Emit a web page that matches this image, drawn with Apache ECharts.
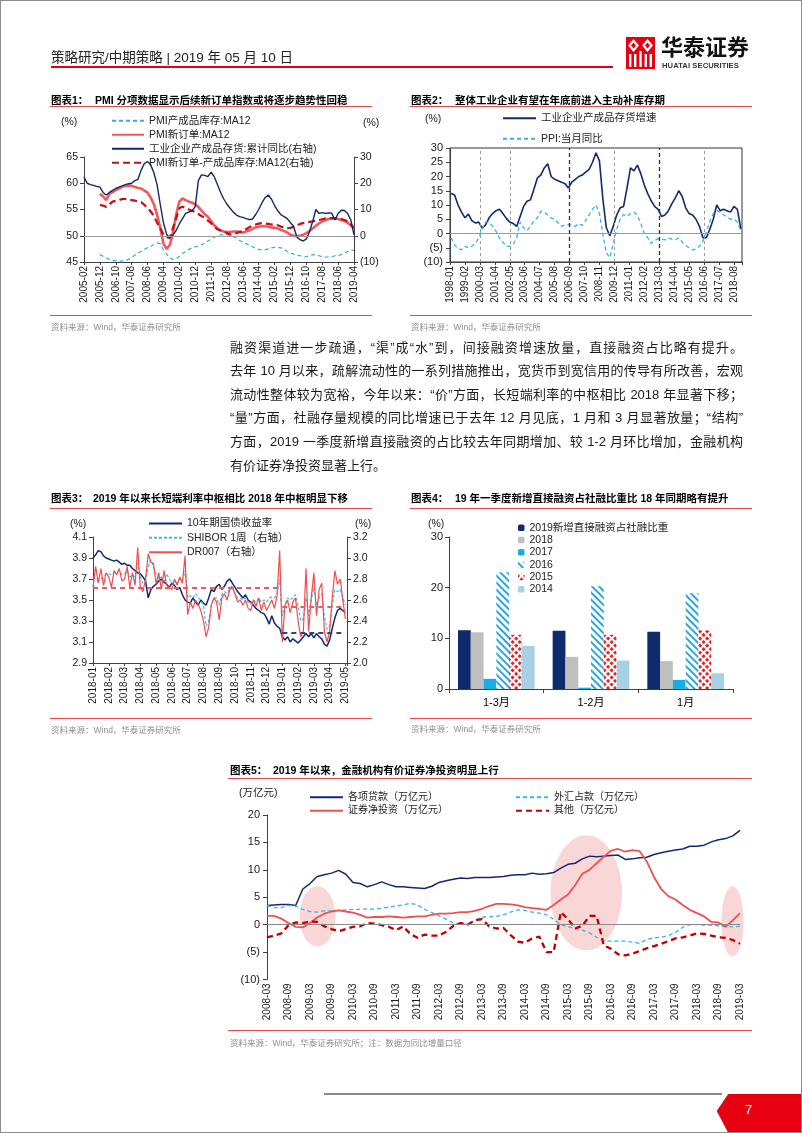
<!DOCTYPE html>
<html>
<head>
<meta charset="utf-8">
<title>华泰证券 策略研究</title>
<script src="https://cdn.jsdelivr.net/npm/echarts@6/dist/echarts.min.js"></script>
<style>
html,body{margin:0;padding:0;background:#fff;}
#page{position:relative;width:802px;height:1133px;overflow:hidden;background:#fff;font-family:"Liberation Sans","Noto Sans CJK SC",sans-serif;color:#1a1a1a;}
#chart{position:absolute;left:0;top:0;width:802px;height:1133px;}
.t{position:absolute;white-space:nowrap;line-height:1;}
.ttl{font-size:10.5px;font-weight:bold;color:#000;}
.src{font-size:8.5px;color:#8f8f8f;}
.unit{font-size:10.5px;color:#1a1a1a;}
.rule{position:absolute;height:1.3px;background:#e8494b;}
.par{position:absolute;left:230px;width:513px;font-size:13px;line-height:1;text-align:justify;text-align-last:justify;color:#1a1a1a;}
#frame{position:absolute;left:0;top:0;width:802px;height:1133px;box-sizing:border-box;border:1px solid #8c8c8c;pointer-events:none;}
</style>
</head>
<body>
<div id="page">
<div id="chart"></div>

<!-- header -->
<div class="t" style="left:51px;top:50.5px;font-size:13.5px;color:#222;">策略研究/中期策略 | 2019 年 05 月 10 日</div>
<div class="rule" style="left:51px;top:66px;width:562px;height:2px;background:#e60012;"></div>
<svg style="position:absolute;left:626px;top:37px" width="29" height="32" viewBox="0 0 29 32">
  <rect width="29" height="32" fill="#e60012"/>
  <path d="M7.5 2 L13 8.5 L7.5 15 L2 8.5 Z" fill="#fff"/>
  <path d="M21.5 2 L27 8.5 L21.5 15 L16 8.5 Z" fill="#fff"/>
  <path d="M7.5 5.5 L10 8.5 L7.5 11.5 L5 8.5 Z" fill="#e60012"/>
  <path d="M21.5 5.5 L24 8.5 L21.5 11.5 L19 8.5 Z" fill="#e60012"/>
  <rect x="3" y="17" width="2.4" height="13" fill="#fff"/>
  <rect x="8" y="17" width="2.4" height="13" fill="#fff"/>
  <rect x="13.3" y="14" width="2.4" height="16" fill="#fff"/>
  <rect x="18.6" y="17" width="2.4" height="13" fill="#fff"/>
  <rect x="23.6" y="17" width="2.4" height="13" fill="#fff"/>
</svg>
<div class="t" style="left:661px;top:37px;font-size:22px;font-weight:bold;color:#111;">华泰证券</div>
<div class="t" style="left:662px;top:62px;font-size:7.6px;font-weight:bold;color:#333;letter-spacing:0.1px;">HUATAI SECURITIES</div>

<!-- chart titles -->
<div class="t ttl" style="left:51px;top:94.5px;">图表1：</div>
<div class="t ttl" style="left:95px;top:94.5px;">PMI 分项数据显示后续新订单指数或将逐步趋势性回稳</div>
<div class="rule" style="left:50px;top:106px;width:322px;"></div>
<div class="t ttl" style="left:411px;top:94.5px;">图表2：</div>
<div class="t ttl" style="left:455px;top:94.5px;">整体工业企业有望在年底前进入主动补库存期</div>
<div class="rule" style="left:410px;top:106px;width:342px;"></div>

<div class="t ttl" style="left:51px;top:492.5px;">图表3：</div>
<div class="t ttl" style="left:93px;top:492.5px;">2019 年以来长短端利率中枢相比 2018 年中枢明显下移</div>
<div class="rule" style="left:50px;top:508px;width:322px;"></div>
<div class="t ttl" style="left:411px;top:492.5px;">图表4：</div>
<div class="t ttl" style="left:455px;top:492.5px;">19 年一季度新增直接融资占社融比重比 18 年同期略有提升</div>
<div class="rule" style="left:410px;top:508px;width:342px;"></div>

<div class="t ttl" style="left:230px;top:765px;">图表5：</div>
<div class="t ttl" style="left:273px;top:765px;">2019 年以来，金融机构有价证券净投资明显上行</div>
<div class="rule" style="left:228px;top:778px;width:524px;"></div>

<!-- bottom rules and sources -->
<div class="rule" style="left:50px;top:314.5px;width:322px;"></div>
<div class="t src" style="left:51px;top:323px;">资料来源：Wind，华泰证券研究所</div>
<div class="rule" style="left:410px;top:314.5px;width:342px;"></div>
<div class="t src" style="left:411px;top:323px;">资料来源：Wind，华泰证券研究所</div>
<div class="rule" style="left:50px;top:717.5px;width:322px;"></div>
<div class="t src" style="left:51px;top:726px;">资料来源：Wind，华泰证券研究所</div>
<div class="rule" style="left:410px;top:717.5px;width:342px;"></div>
<div class="t src" style="left:411px;top:725px;">资料来源：Wind，华泰证券研究所</div>
<div class="rule" style="left:228px;top:1029.5px;width:524px;"></div>
<div class="t src" style="left:230px;top:1039px;">资料来源：Wind，华泰证券研究所；注：数据为同比增量口径</div>

<!-- unit labels -->
<div class="t unit" style="left:61px;top:115.5px;">(%)</div>
<div class="t unit" style="left:363px;top:116.5px;">(%)</div>
<div class="t unit" style="left:425px;top:112.5px;">(%)</div>
<div class="t unit" style="left:70px;top:517.5px;">(%)</div>
<div class="t unit" style="left:355px;top:517.5px;">(%)</div>
<div class="t unit" style="left:428px;top:517.5px;">(%)</div>
<div class="t unit" style="left:239px;top:786.5px;">(万亿元)</div>

<!-- paragraph -->
<div class="par" style="top:340.5px;">融资渠道进一步疏通，“渠”成“水”到，间接融资增速放量，直接融资占比略有提升。</div>
<div class="par" style="top:364.1px;">去年 10 月以来，疏解流动性的一系列措施推出，宽货币到宽信用的传导有所改善，宏观</div>
<div class="par" style="top:387.7px;">流动性整体较为宽裕，今年以来：“价”方面，长短端利率的中枢相比 2018 年显著下移；</div>
<div class="par" style="top:411.3px;">“量”方面，社融存量规模的同比增速已于去年 12 月见底，1 月和 3 月显著放量；“结构”</div>
<div class="par" style="top:434.9px;">方面，2019 一季度新增直接融资的占比较去年同期增加、较 1-2 月环比增加，金融机构</div>
<div class="par" style="top:458.5px;text-align-last:left;">有价证券净投资显著上行。</div>

<!-- footer -->
<div style="position:absolute;left:324px;top:1093px;width:398px;height:2px;background:#8c8c8c;"></div>
<svg style="position:absolute;left:712px;top:1093px" width="90" height="40" viewBox="0 0 90 40">
  <polygon points="16,1 90,1 90,40 16,40 4.5,18" fill="#9a9a9a"/>
  <polygon points="15,1 90,1 90,40 15,40 3.5,18" fill="#e60012" transform="translate(1.5,0)"/>
</svg>
<div class="t" style="left:745px;top:1103px;font-size:13px;color:#fff;">7</div>
<div id="frame"></div>
</div>

<script>
// ---------------- data ----------------
// Chart 1 (monthly index from 2005-02; sampled every 2 months)
const c1Ticks = ['2005-02','2005-12','2006-10','2007-08','2008-06','2009-04','2010-02','2010-12','2011-10','2012-08','2013-06','2014-04','2015-02','2015-12','2016-10','2017-08','2018-06','2019-04'];
const c1Step = 2;
const c1InvYoYStart = 0;     // 工业企业产成品存货:累计同比 from 2005-02
const c1PmiStart = 10;       // PMI MA12 series from 2005-12
const c1InvYoY = [22.4,20,19.5,19.2,18.8,18.5,16.5,15.5,16.5,17.3,18,18.5,19,19.5,19.8,20,21,21.5,25,27.5,
  28.3,27,24,19.5,12,5,0.5,-0.8,0.3,2,4.5,6.5,8.5,9,9.5,11,21,23.2,23,22.5,
  24.2,22.5,19.5,16.5,14,12,10.5,9,7.9,7.3,7,6.5,6.2,6.3,8,10,12.5,14.5,15.5,14,
  11.5,9.5,8,7.3,6.5,5,3.5,-0.5,-1.5,-2,-1.2,1.5,5.5,10,8.5,8.8,8.5,8.7,8.6,6,
  8.5,9.7,9.6,8.5,6,0.3];
const c1NewOrder = [58.0,57.5,56.8,58,58.3,58.7,59,59.3,59.5,59.6,59.5,59.3,59.1,59,58.6,58.2,57.3,56,54,51.5,
  48.5,47.5,48.2,50.5,54,56.5,57.1,56.8,56.5,56.3,56,55.5,54.8,54.1,53.6,52.8,52,51.4,51,50.8,
  50.7,50.7,50.8,50.8,50.7,50.6,50.8,51,51.3,51.6,51.7,51.8,51.8,51.7,51.6,51.5,51.4,51.1,50.9,50.6,
  50.2,50,49.9,50,50.2,50.5,50.9,51.4,51.9,52.4,52.7,53,53.2,53.3,53.3,53.2,53,52.8,52.5,52,51.4];
const c1Spread = [11.7,11.5,11,12,13,13.3,13.6,14,14,13.8,13.6,13.4,13,12.8,11.8,10.4,9.3,7.5,5,3,
  0.5,-0.5,-0.8,3,6.5,10.5,11.1,10.5,10,9.5,9,8.3,7.5,6.8,5.8,4.8,3.5,2.5,2,1.6,
  1,0.5,0.6,1,1.5,1.6,2.5,3.2,3.8,4.3,4.6,4.8,4.7,4.5,4.3,4.2,4,3.5,3.2,2.9,
  3,3.4,4,4.5,4.8,5,5.3,5.5,5.8,6,6.3,6.6,6.7,6.7,6.6,6.5,6.4,6,5.5,4.3,3];
const c1Inventory = [46.4,46.1,45.8,45.5,45.3,45.2,45.1,45.2,45.3,45.5,45.9,46.3,46.7,47,47.4,47.7,48,48.3,48.6,48.5,
  47.3,46.5,45.8,45.5,45.6,46.1,46.6,47,47.4,47.7,47.9,48,48.3,48.6,49,49.3,49.7,50,50.2,50.2,
  50.2,50.1,49.8,49.5,49.1,48.8,48.5,48.2,47.9,47.6,47.4,47.3,47.3,47.5,47.7,47.8,47.8,47.7,47.4,47,
  46.7,46.5,46.3,46.2,46,46,46.2,46.4,46.3,46.2,46,45.9,46,46,46.2,46.2,46.4,46.7,47,47.3,47.2];

// Chart 2 (monthly index from 1998-01; sampled every 3 months starting 1998-02)
const c2Ticks = ['1998-01','1999-02','2000-03','2001-04','2002-05','2003-06','2004-07','2005-08','2006-09','2007-10','2008-11','2009-12','2011-01','2012-02','2013-03','2014-04','2015-05','2016-06','2017-07','2018-08'];
const c2Start = 1, c2Step = 3;
const c2InvGrowth = [14,13.5,10,7.5,5.5,6.8,4.5,3.7,4,1.9,3,5.5,7,8,8.5,7,5.3,4,3.5,2.5,
  6,9.5,11.3,11.8,15.5,19.5,20.5,23,24.5,20,19,18.5,18,17.5,16,18,19,20,20.5,21.5,
  22.5,25,28.3,25.5,12,2,-0.8,2.5,6.5,9,9.5,16,23,22,24,21,17,14,11.5,9.5,
  8.5,6,6.5,8,10.5,12.5,15,13,9,7,6.5,5,2.5,-1.5,-1.5,1.5,5,10,8,8.5,
  8,7.5,9.5,8.5,1.5];
const c2PPI = [-1.5,-4,-5.3,-5.7,-4.5,-5,-4.5,-3.5,-1.5,1.5,4,4,2.5,0.8,-1.6,-3,-4.5,-4.5,-3.8,-1.6,
  4,2,1,2.5,4.5,5.5,7.8,7.5,6.5,5.4,5,3.7,2.5,3,3,3,2.5,3.5,2.8,4.5,
  6.5,8.5,10,7,-0.5,-6.8,-8.5,-3.5,1.5,5,6.6,6,7,7.5,6.5,3.5,0,-1.5,-3.5,-2.5,
  -1.8,-2,-2.2,-1.6,-2,-2.2,-1.6,-3,-4.2,-5,-5.7,-5.4,-4.5,-2.7,0.5,4.3,7,8,7.5,6.5,
  5.8,5,5,4,0.8];
const c2Marks = ['2000-03','2002-05','2006-09','2009-12','2013-03','2016-06'];
const c2MarkStrong = [false,false,true,false,true,false];

// Chart 3 (month index from 2018-01; 6 samples per month)
const c3Ticks = ['2018-01','2018-02','2018-03','2018-04','2018-05','2018-06','2018-07','2018-08','2018-09','2018-10','2018-11','2018-12','2019-01','2019-02','2019-03','2019-04','2019-05'];
const c3PerMonth = 6;
const c3Bond10Y = [3.90,3.93,3.97,3.96,3.92,3.90, 3.89,3.88,3.87,3.88,3.86,3.84, 3.85,3.83,3.83,3.80,3.78,3.76,
  3.75,3.72,3.68,3.52,3.60,3.63, 3.65,3.68,3.70,3.67,3.65,3.62, 3.66,3.64,3.60,3.62,3.55,3.50,
  3.48,3.47,3.52,3.48,3.45,3.50, 3.47,3.45,3.52,3.60,3.58,3.63, 3.65,3.60,3.63,3.68,3.70,3.66,
  3.62,3.58,3.55,3.52,3.55,3.50, 3.48,3.45,3.42,3.40,3.38,3.37, 3.33,3.27,3.35,3.28,3.25,3.23,
  3.15,3.12,3.15,3.10,3.13,3.11, 3.09,3.12,3.15,3.18,3.15,3.18, 3.14,3.18,3.15,3.13,3.08,3.06,
  3.12,3.23,3.33,3.40,3.42,3.40, 3.38];
const c3Shibor = [2.82,2.80,2.78,2.80,2.82,2.85, 2.85,2.84,2.86,2.86,2.88,2.84, 2.85,2.88,2.82,2.84,2.82,2.95,
  2.82,2.76,2.78,2.92,2.98,2.92, 2.85,2.80,2.82,2.78,2.85,2.80, 2.76,2.78,2.76,2.80,2.78,2.88,
  2.62,2.64,2.62,2.66,2.62,2.60, 2.55,2.35,2.40,2.55,2.62,2.62, 2.55,2.65,2.68,2.66,2.70,2.74,
  2.66,2.62,2.62,2.60,2.62,2.58, 2.56,2.60,2.58,2.62,2.58,2.60, 2.58,2.62,2.63,2.62,2.66,2.80,
  2.45,2.55,2.62,2.60,2.62,2.65, 2.55,2.40,2.42,2.62,2.45,2.60, 2.72,2.55,2.62,2.66,2.45,2.32,
  2.35,2.55,2.70,2.68,2.70,2.62, 2.55];
const c3DR007 = [2.72,2.92,2.76,2.90,2.74,2.86, 2.82,2.72,2.88,2.84,2.90,2.78, 2.80,2.92,2.72,2.86,2.74,3.10,
  2.72,2.68,2.80,3.04,2.96,2.95, 2.75,2.86,2.70,2.88,2.74,2.72, 2.70,2.80,2.74,2.82,2.76,3.02,
  2.46,2.58,2.52,2.60,2.56,2.50, 2.40,2.25,2.34,2.55,2.62,2.58, 2.41,2.62,2.66,2.60,2.70,2.72,
  2.66,2.58,2.60,2.55,2.60,2.52, 2.50,2.60,2.54,2.62,2.50,2.58, 2.50,2.55,2.60,2.52,2.64,3.07,
  2.20,2.55,2.60,2.48,2.58,2.62, 2.40,2.25,2.30,2.90,2.30,2.62, 2.86,2.45,2.70,2.76,2.30,2.20,
  2.30,2.62,2.88,2.75,2.80,2.60, 2.42];
const c3AvgSpans = [[0, 11.85], [12, 16]];   // 2018, 2019 (month index)
const c3Avg10Y = [3.62, 3.19];
const c3AvgDR007 = [2.72, 2.54];

// Chart 4
const c4Cats = ['1-3月','1-2月','1月'];
const c4Names = ['2019新增直接融资占社融比重','2018','2017','2016','2015','2014'];
const c4Y2019 = [11.6, 11.5, 11.3];
const c4Y2018 = [11.2, 6.35, 5.5];
const c4Y2017 = [2.0, 0.26, 1.8];
const c4Y2016 = [23.05, 20.3, 18.9];
const c4Y2015 = [10.7, 10.7, 11.6];
const c4Y2014 = [8.5, 5.6, 3.1];

// Chart 5 (month index from 2008-03; sampled every 2 months)
const c5Ticks = ['2008-03','2008-09','2009-03','2009-09','2010-03','2010-09','2011-03','2011-09','2012-03','2012-09','2013-03','2013-09','2014-03','2014-09','2015-03','2015-09','2016-03','2016-09','2017-03','2017-09','2018-03','2018-09','2019-03'];
const c5Step = 2;
const c5Loans = [3.5,3.6,3.7,3.7,3.5,6.5,7.5,8.8,9.1,9.4, 9.9,9.2,7.7,7.5,6.9,7.3,7.8,7.3,6.9,6.9,
  6.8,6.7,6.6,7.0,7.7,8.0,8.3,8.5,8.4,8.6, 8.6,8.6,8.7,8.8,9.0,9.1,9.1,9.4,9.2,9.3,
  9.5,10.3,11.0,11.2,12.0,12.5,12.4,12.5,12.6,12.7, 11.9,12.0,12.2,12.3,12.8,13.1,13.4,13.6,13.8,14.3,
  14.3,14.5,15.1,15.5,15.7,16.2,17.2];
const c5FX = [3.5,3.1,3.1,3.5,3.4,2.8,2.4,2.3,2.5,2.5, 2.6,2.7,2.8,2.8,2.9,2.8,3.0,3.2,3.4,3.6,
  3.9,3.6,2.8,2.2,1.6,1.0,0.3,0.1,0.1,0.8, 1.4,1.4,1.5,1.8,2.3,2.7,2.6,2.3,2.1,1.8,
  1.0,0.0,-0.4,-0.7,-1.0,-1.5,-2.3,-2.9,-3.0,-3.0, -3.0,-3.2,-3.4,-2.7,-2.4,-2.3,-2.0,-1.4,-0.5,0,
  0,-0.1,-0.1,-0.2,-0.3,-0.4,-0.3];
const c5Securities = [1.6,1.6,1.1,0.3,-0.4,-0.5,0.3,1.3,2.0,2.4, 2.6,2.4,2.2,1.8,1.3,1.4,1.4,1.5,1.4,1.3,
  1.4,1.5,1.5,1.8,2.0,2.0,2.1,2.3,2.3,2.5, 2.9,3.4,3.8,3.8,3.7,3.5,3.2,3.0,2.9,2.7,
  3.6,4.6,5.5,7.2,9.3,10.0,11.2,12.4,13.5,13.8, 13.3,13.6,13.4,11.5,8.7,6.5,5.2,4.6,3.6,2.7,
  2.1,1.5,0.5,0.4,-0.4,0.8,2.1];
const c5Other = [-2.3,-2.0,-1.6,-0.1,0.4,0.3,0.6,0.5,-0.3,-0.8, -1.2,-0.8,-0.4,-0.3,0.3,0.2,-0.1,-0.4,-1.0,-0.3,
  -1.7,-2.4,-1.8,-2.0,-2.0,-1.3,-0.2,0.3,0,0.8, 1.0,-0.3,-0.7,-0.6,-1.9,-3.1,-3.3,-2.5,-2.2,-5.0,
  -5.0,2.3,1.0,-0.7,-0.2,1.6,1.6,-3.8,-4.4,-5.4, -5.6,-5.3,-4.8,-4.3,-3.9,-3.5,-3.0,-2.5,-2.3,-2.0,
  -1.6,-1.7,-2.0,-2.3,-2.4,-2.8,-3.5];
// highlighted regions: [center month, center value, half-width (months), half-height (value)]
const c5Highlights = [[14.1, 1.5, 5, 5.5], [89.1, 5.8, 10, 10.5], [129.9, 0.6, 3.1, 6.4]];

// ---------------- helpers ----------------
const FONT = '"Liberation Sans","Noto Sans CJK SC",sans-serif';
const pairs = (vals, start, step) => vals.map((v, i) => [start + i * step, v]);
const paren = v => (v < 0 ? '(' + Math.abs(v) + ')' : String(v));
const tickFmt = (labels, every) => v => {
  const k = Math.round(v / every);
  return (Math.abs(v - k * every) < 1e-6 && labels[k]) ? labels[k] : '';
};
const monthIdx = (s, baseYear, baseMonth) => {
  const [y, m] = s.split('-').map(Number);
  return (y - baseYear) * 12 + (m - baseMonth);
};
const AX = '#404040';
const axisLine = {show: true, onZero: false, lineStyle: {color: AX, width: 1}};
const tick = (len) => ({show: true, length: len, lineStyle: {color: AX}});
const lbl = extra => Object.assign({color: '#1a1a1a', fontSize: 10.5, fontFamily: FONT}, extra);
const noSplit = {show: false};
// line legends: hide the symbol drawn in the middle of the line icon
const legendBase = (extra) => Object.assign({
  orient: 'vertical', padding: 0, selectedMode: false, itemWidth: 33, itemHeight: 10,
  itemStyle: {opacity: 0},
  textStyle: {fontSize: 10.5, color: '#222', fontFamily: FONT, lineHeight: 10}
}, extra);
const lineS = (name, data, xi, yi, color, width, type, z) => ({
  name, type: 'line', data, xAxisIndex: xi, yAxisIndex: yi, showSymbol: false, symbol: 'none',
  lineStyle: {color, width, type: type || 'solid'}, itemStyle: {color}, z: z || 2, silent: true
});

// ---------------- option ----------------
const series = [];

// chart 1
const s1a = lineS('PMI产成品库存:MA12', pairs(c1Inventory, c1PmiStart, c1Step), 0, 0, '#2cb0e6', 1.2, [4, 3]);
const s1b = lineS('PMI新订单:MA12', pairs(c1NewOrder, c1PmiStart, c1Step), 0, 0, '#f3585a', 2.6);
const s1c = lineS('PMI新订单-产成品库存:MA12(右轴)', pairs(c1Spread, c1PmiStart, c1Step), 0, 1, '#c0101a', 2.2, [7, 4]);
s1c.markLine = {silent: true, symbol: ['none', 'none'], label: {show: false},
  lineStyle: {color: '#9a9a9a', width: 1, type: 'solid'}, data: [{yAxis: 0}]};
const s1d = lineS('工业企业产成品存货:累计同比(右轴)', pairs(c1InvYoY, c1InvYoYStart, c1Step), 0, 1, '#14276b', 1.4);
series.push(s1a, s1b, s1c, s1d);

// chart 2
const s2a = lineS('工业企业产成品存货增速', pairs(c2InvGrowth, c2Start, c2Step), 1, 2, '#13296f', 1.6);
const s2b = lineS('PPI:当月同比', pairs(c2PPI, c2Start, c2Step), 1, 2, '#36b3e6', 1.3, [4, 3]);
s2a.markLine = {silent: true, symbol: ['none', 'none'], label: {show: false},
  data: [{yAxis: 0, lineStyle: {color: '#9a9a9a', width: 1, type: 'solid'}}].concat(
    c2Marks.map((m, i) => ({xAxis: monthIdx(m, 1998, 1),
      lineStyle: c2MarkStrong[i] ? {color: '#333', width: 1.3, type: [4, 3]} : {color: '#9a9a9a', width: 1, type: [3, 3]}})))};
series.push(s2a, s2b);

// chart 3
const avgLines = (vals) => vals.map((v, i) => [{coord: [c3AvgSpans[i][0], v]}, {coord: [c3AvgSpans[i][1], v]}]);
const s3a = lineS('10年期国债收益率', pairs(c3Bond10Y, 0, 1 / c3PerMonth), 2, 3, '#0f2a6e', 1.5);
s3a.markLine = {silent: true, symbol: ['none', 'none'], label: {show: false},
  lineStyle: {color: '#34457e', width: 1.8, type: [5, 4]}, data: avgLines(c3Avg10Y)};
const s3b = lineS('SHIBOR 1周（右轴）', pairs(c3Shibor, 0, 1 / c3PerMonth), 2, 4, '#40b7e8', 1.2, [3, 2]);
const s3c = lineS('DR007（右轴）', pairs(c3DR007, 0, 1 / c3PerMonth), 2, 4, '#f24d4d', 1.2);
s3c.markLine = {silent: true, symbol: ['none', 'none'], label: {show: false},
  lineStyle: {color: '#f05a5a', width: 1.8, type: [5, 4]}, data: avgLines(c3AvgDR007)};
series.push(s3a, s3b, s3c);

// chart 4
const bar = (name, data, style) => ({name, type: 'bar', data, xAxisIndex: 3, yAxisIndex: 5,
  barGap: '0%', barCategoryGap: '19%', itemStyle: style, silent: true});
series.push(
  bar(c4Names[0], c4Y2019, {color: '#0d2b6b'}),
  bar(c4Names[1], c4Y2018, {color: '#bfbfbf'}),
  bar(c4Names[2], c4Y2017, {color: '#16aee8'}),
  bar(c4Names[3], c4Y2016, {color: '#ffffff', decal: {symbol: 'rect', symbolSize: 1, color: '#2aa7df',
    dashArrayX: [1, 0], dashArrayY: [2, 2.2], rotation: Math.PI / 4}}),
  bar(c4Names[4], c4Y2015, {color: '#ffffff', decal: {symbol: 'rect', symbolSize: 1, color: '#e0282c',
    dashArrayX: [2.6, 1.1], dashArrayY: [2.6, 1.1], rotation: Math.PI / 4}}),
  bar(c4Names[5], c4Y2014, {color: '#a8d1e3'})
);

// chart 5
series.push({
  type: 'custom', xAxisIndex: 4, yAxisIndex: 6, z: 1, silent: true, data: c5Highlights,
  encode: {x: 0, y: 1},
  renderItem: (params, api) => {
    const c = api.coord([api.value(0), api.value(1)]);
    const s = api.size([api.value(2), api.value(3)]);
    return {type: 'circle', shape: {cx: 0, cy: 0, r: 1}, x: c[0], y: c[1], scaleX: s[0], scaleY: s[1],
      style: {fill: 'rgba(242,150,150,0.38)'}};
  }
});
const s5a = lineS('各项贷款（万亿元）', pairs(c5Loans, 0, c5Step), 4, 6, '#13296f', 1.5);
const s5b = lineS('外汇占款（万亿元）', pairs(c5FX, 0, c5Step), 4, 6, '#3ab3e6', 1.3, [4, 3]);
s5b.markLine = {silent: true, symbol: ['none', 'none'], label: {show: false},
  lineStyle: {color: '#8a8a8a', width: 1, type: 'solid'}, data: [{yAxis: 0}]};
const s5c = lineS('证券净投资（万亿元）', pairs(c5Securities, 0, c5Step), 4, 6, '#f05050', 1.8);
const s5d = lineS('其他（万亿元）', pairs(c5Other, 0, c5Step), 4, 6, '#c00000', 2.3, [6, 4]);
series.push(s5a, s5b, s5c, s5d);

const option = {
  animation: false,
  textStyle: {fontFamily: FONT},
  grid: [
    {left: 84, top: 157, width: 270, height: 105},
    {left: 450, top: 148, width: 292, height: 114, show: true, borderColor: '#333', borderWidth: 1, backgroundColor: 'transparent'},
    {left: 93, top: 537, width: 254, height: 126},
    {left: 449, top: 537, width: 284, height: 152},
    {left: 267, top: 815, width: 473, height: 164.5}
  ],
  legend: [
    legendBase({left: 111, top: 115.5, itemWidth: 32, itemGap: 3.5,
      data: ['PMI产成品库存:MA12', 'PMI新订单:MA12', '工业企业产成品存货:累计同比(右轴)', 'PMI新订单-产成品库存:MA12(右轴)']}),
    legendBase({left: 502, top: 113, itemGap: 10, data: ['工业企业产成品存货增速', 'PPI:当月同比']}),
    legendBase({left: 148, top: 518.3, itemGap: 3.8, data: ['10年期国债收益率', 'SHIBOR 1周（右轴）', 'DR007（右轴）']}),
    legendBase({left: 518, top: 522.5, itemWidth: 6.5, itemHeight: 6.5, itemGap: 1.8, itemStyle: {},
      textStyle: {fontSize: 10.5, color: '#222', fontFamily: FONT, lineHeight: 10.5}, data: c4Names}),
    legendBase({left: 309, top: 792.3, itemGap: 3.4,
      textStyle: {fontSize: 10, color: '#222', fontFamily: FONT, lineHeight: 10}, data: ['各项贷款（万亿元）', '证券净投资（万亿元）']}),
    legendBase({left: 515, top: 792.3, itemGap: 3.4,
      textStyle: {fontSize: 10, color: '#222', fontFamily: FONT, lineHeight: 10}, data: ['外汇占款（万亿元）', '其他（万亿元）']})
  ],
  xAxis: [
    {gridIndex: 0, type: 'value', min: 0, max: 170, interval: 10, axisLine, axisTick: tick(3), splitLine: noSplit,
      axisLabel: lbl({rotate: 90, fontSize: 10, margin: 4, formatter: tickFmt(c1Ticks, 10)})},
    {gridIndex: 1, type: 'value', min: 0, max: 254, interval: 13, axisLine, axisTick: tick(3), splitLine: noSplit,
      axisLabel: lbl({rotate: 90, fontSize: 10, margin: 4, formatter: tickFmt(c2Ticks, 13)})},
    {gridIndex: 2, type: 'value', min: 0, max: 16.1, interval: 1, axisLine, axisTick: tick(3), splitLine: noSplit,
      axisLabel: lbl({rotate: 90, fontSize: 10, margin: 4, formatter: tickFmt(c3Ticks, 1)})},
    {gridIndex: 3, type: 'category', data: c4Cats, axisLine, axisTick: tick(4), splitLine: noSplit,
      axisLabel: lbl({fontSize: 11, margin: 8, color: '#000'})},
    {gridIndex: 4, type: 'value', min: 0, max: 132, interval: 6, axisLine: {show: false, onZero: false},
      axisTick: {show: false}, splitLine: noSplit,
      axisLabel: lbl({rotate: 90, fontSize: 10, margin: 4, formatter: tickFmt(c5Ticks, 6)})}
  ],
  yAxis: [
    {gridIndex: 0, type: 'value', position: 'left', min: 45, max: 65, interval: 5, axisLine, axisTick: tick(4),
      splitLine: noSplit, axisLabel: lbl({margin: 6})},
    {gridIndex: 0, type: 'value', position: 'right', min: -10, max: 30, interval: 10, axisLine, axisTick: tick(4),
      splitLine: noSplit, axisLabel: lbl({margin: 6, formatter: paren})},
    {gridIndex: 1, type: 'value', position: 'left', min: -10, max: 30, interval: 5, axisLine, axisTick: tick(4),
      splitLine: noSplit, axisLabel: lbl({margin: 7, fontSize: 11, formatter: paren})},
    {gridIndex: 2, type: 'value', position: 'left', min: 2.9, max: 4.1, interval: 0.2, axisLine, axisTick: tick(4),
      splitLine: noSplit, axisLabel: lbl({margin: 6, formatter: v => v.toFixed(1)})},
    {gridIndex: 2, type: 'value', position: 'right', min: 2.0, max: 3.2, interval: 0.2, axisLine, axisTick: tick(4),
      splitLine: noSplit, axisLabel: lbl({margin: 6, formatter: v => v.toFixed(1)})},
    {gridIndex: 3, type: 'value', position: 'left', min: 0, max: 30, interval: 10, axisLine, axisTick: tick(4),
      splitLine: noSplit, axisLabel: lbl({margin: 6, fontSize: 11})},
    {gridIndex: 4, type: 'value', position: 'left', min: -10, max: 20, interval: 5, axisLine, axisTick: tick(4),
      splitLine: noSplit, axisLabel: lbl({margin: 7, fontSize: 11, formatter: paren})}
  ],
  series
};

const chart = echarts.init(document.getElementById('chart'), null, {renderer: 'canvas', width: 802, height: 1133});
chart.setOption(option);
</script>
</body>
</html>
